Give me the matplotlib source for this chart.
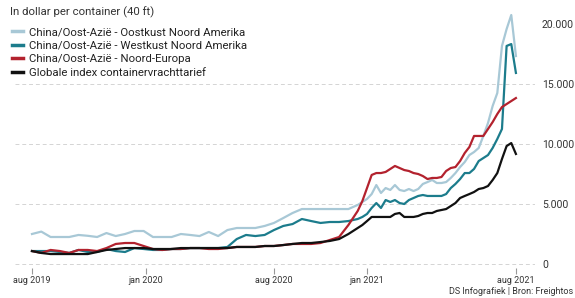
import matplotlib.pyplot as plt

# weken sinds aug 2019 (tweewekelijks tot week 68, daarna wekelijks)
weken = list(range(0, 70, 2)) + list(range(70, 105))

oostkust = [2500, 2700, 2250, 2250, 2250, 2420, 2350, 2250, 2580, 2330,
            2500, 2750, 2750, 2250, 2250, 2250, 2500, 2420, 2330, 2670,
            2330, 2830, 3000, 3000, 3000, 3170, 3420, 3830, 4250, 4580,
            4580, 4580, 4580, 4580, 4580,
            4920, 5170, 5420, 5830, 6580, 5920, 6330, 6170, 6580, 6170,
            6080, 6250, 6080, 6250, 6670, 6830, 7000, 6750, 6750, 6830,
            7170, 7580, 8080, 8500, 9080, 9330, 9670, 10670, 11750, 13170,
            14250, 18170, 19580, 20750, 17330]

westkust = [1080, 1080, 1080, 1000, 920, 1170, 1000, 1000, 1250, 1080,
            1000, 1330, 1250, 1170, 1170, 1250, 1250, 1330, 1330, 1330,
            1330, 1420, 2080, 2420, 2330, 2420, 2830, 3170, 3330, 3750,
            3580, 3420, 3500, 3500, 3580,
            3750, 3920, 4170, 4670, 5080, 4670, 5330, 5170, 5330, 5080,
            5000, 5330, 5500, 5670, 5750, 5670, 5670, 5670, 5670, 5830,
            6330, 6670, 7080, 7580, 7580, 7920, 8580, 8830, 9080, 9670,
            10420, 11250, 18170, 18330, 15920]

noord_europa = [1080, 920, 1170, 1080, 920, 1170, 1170, 1080, 1330, 1670,
                1750, 1750, 1500, 1250, 1170, 1250, 1250, 1330, 1330, 1250,
                1250, 1330, 1420, 1420, 1420, 1500, 1500, 1580, 1670, 1670,
                1670, 1750, 2000, 2250, 3250,
                4420, 5250, 6330, 7420, 7580, 7580, 7670, 7920, 8170, 8000,
                7830, 7750, 7580, 7500, 7330, 7080, 7170, 7170, 7250, 7750,
                8000, 8080, 8580, 9250, 9750, 10670, 10670, 10670, 11250, 11830,
                12500, 13080, 13330, 13580, 13830]

globaal = [1080, 920, 830, 830, 830, 830, 830, 1000, 1170, 1250,
           1330, 1330, 1330, 1250, 1250, 1250, 1330, 1330, 1330, 1330,
           1330, 1330, 1420, 1420, 1420, 1500, 1500, 1580, 1670, 1750,
           1750, 1830, 1920, 2080, 2500,
           3000, 3250, 3580, 3920, 3920, 3920, 3920, 3920, 4170, 4250,
           3920, 3920, 3920, 4000, 4170, 4250, 4250, 4420, 4500, 4580,
           4830, 5080, 5500, 5670, 5830, 6000, 6250, 6330, 6500, 7000,
           7580, 8750, 9830, 10080, 9170]

tick_weken = [0, 24.5, 52, 72, 104]
tick_labels = ['aug 2019', 'jan 2020', 'aug 2020', 'jan 2021', 'aug 2021']
y_ticks = [0, 5000, 10000, 15000, 20000]

plt.rcParams['font.family'] = ['Roboto', 'DejaVu Sans']

fig = plt.figure(figsize=(5.75, 2.98), dpi=100)
ax = fig.add_axes([15/575, 30/298, 520/575, 263/298])

ax.plot(weken, oostkust, color='#a8c8d6', lw=1.6, label='China/Oost-Azië - Oostkust Noord Amerika')
ax.plot(weken, westkust, color='#1c7c8c', lw=1.6, label='China/Oost-Azië - Westkust Noord Amerika')
ax.plot(weken, noord_europa, color='#b3222e', lw=1.6, label='China/Oost-Azië - Noord-Europa')
ax.plot(weken, globaal, color='#111111', lw=1.6, label='Globale index containervrachttarief')

ax.set_xlim(-3.65, 108.1)
ax.set_ylim(-333, 21583)

for s in ax.spines.values():
    s.set_visible(False)

ax.set_xticks(tick_weken)
ax.set_xticklabels(tick_labels, fontsize=6.5, color='#333333')
ax.tick_params(axis='x', length=4, color='#999999', pad=2)

ax.yaxis.tick_right()
ax.set_yticks(y_ticks)
ax.set_yticklabels([f'{v:,}'.replace(',', '.') for v in y_ticks], fontsize=7.5, color='#333333')
ax.tick_params(axis='y', length=0, pad=5)
ax.yaxis.grid(True, color='#d4d4d4', ls=(0, (4, 3)), lw=0.7)
ax.get_ygridlines()[-1].set_visible(False)
ax.set_axisbelow(True)

fig.text(10/575, 1 - 12/298, 'In dollar per container (40 ft)', fontsize=8.2,
         color='#333333', va='center')
leg = ax.legend(loc='upper left', bbox_to_anchor=(2/575, 1 - 17/298),
                bbox_transform=fig.transFigure, frameon=False, fontsize=8.2,
                handlelength=0.9, handletextpad=0.6, labelspacing=0.3)
for h in leg.get_lines():
    h.set_linewidth(2.5)
for t in leg.get_texts():
    t.set_color('#222222')

fig.text(573/575, 1 - 292/298, 'DS Infografiek | Bron: Freightos', fontsize=6.5,
         color='#333333', ha='right', va='center')

fig.savefig('out.png', dpi=100)
